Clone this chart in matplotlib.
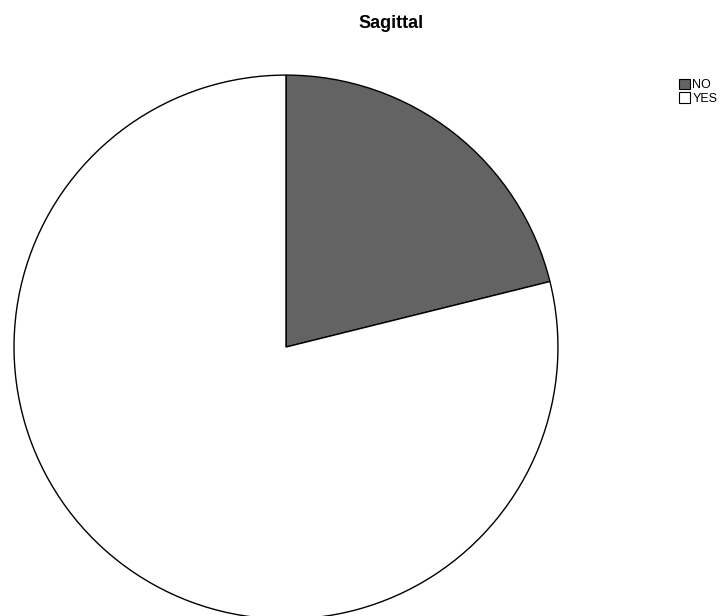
import matplotlib.pyplot as plt
from matplotlib.patches import Patch

plt.rcParams['font.family'] = ['Liberation Sans', 'DejaVu Sans']

labels = ["NO", "YES"]
counts = [15, 56]
colors = ["#636363", "#ffffff"]

fig = plt.figure(figsize=(7.24, 6.16), dpi=100)
ax = fig.add_axes([0.0193, -0.0049, 0.7514, 0.883])
ax.pie(counts, colors=colors, startangle=90, counterclock=False,
       wedgeprops=dict(edgecolor="black", linewidth=1.0))
ax.set_xlim(-1.0, 1.0)
ax.set_ylim(-1.0, 1.0)
ax.set_aspect("equal")
ax.axis("off")

fig.text(391 / 724, 1 - 28 / 616, "Sagittal", ha="center", va="baseline",
         fontsize=13, fontweight="bold")

handles = [Patch(facecolor=c, edgecolor="black", linewidth=0.8) for c in colors]
fig.legend(handles, labels, loc="upper left", bbox_to_anchor=(676 / 724, 1 - 76 / 616),
           frameon=False, fontsize=9, handlelength=0.9, handleheight=0.9,
           handletextpad=0.2, labelspacing=0.1, borderpad=0.2, borderaxespad=0)

fig.savefig("out.png", dpi=100)
